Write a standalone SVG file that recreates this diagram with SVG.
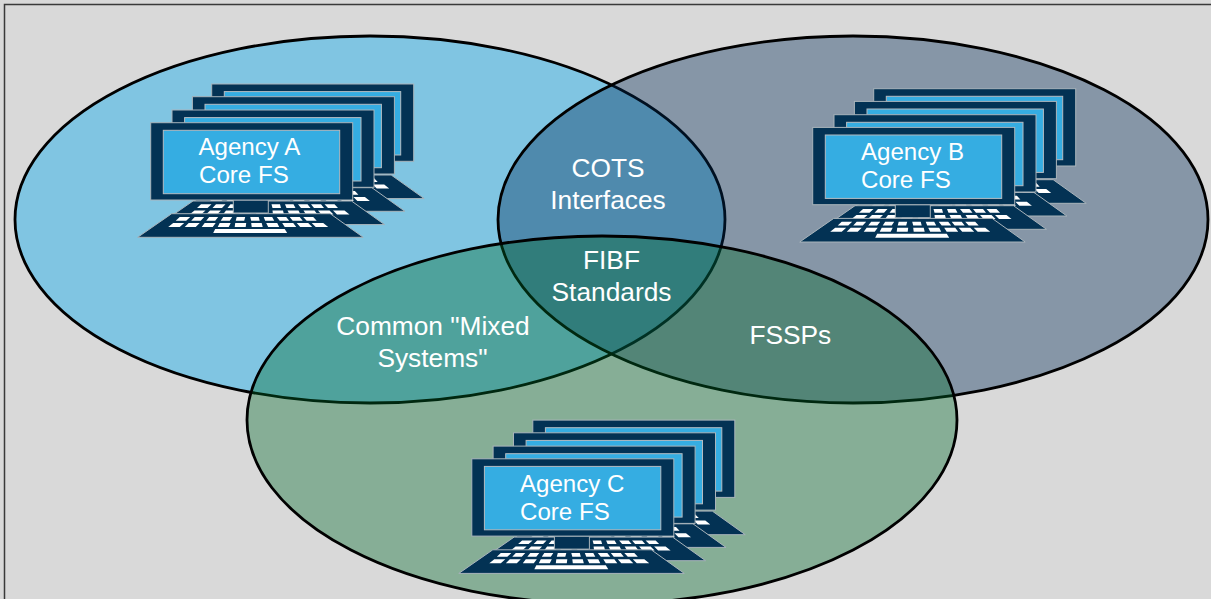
<svg xmlns="http://www.w3.org/2000/svg" width="1211" height="599" viewBox="0 0 1211 599">
<style>
.bg{fill:#d9d9d9}
.frame{fill:none;stroke:#3a3a3a;stroke-width:1.5}
.e{stroke:#000;stroke-width:2.800}
.d{fill:#033254;stroke:#a9b4bb;stroke-width:1}
.s{fill:#35ade2;stroke:#b4bcc2;stroke-width:1}
.k{fill:#fff}
text{font-family:"Liberation Sans",Arial,sans-serif;fill:#fff}
.t1{font-size:24.100px}
.t2{font-size:26.300px;text-anchor:middle}
</style>
<defs>
<g id="laptop">
<path class="d" d="M21 91H179.500L212.500 114.600H-13Z"/>
<g class="k">
<path d="M29 94.300H39.500L35.500 98H25ZM44 94.300H53.500L50 98H40.500ZM58.500 94.300H67.500L64.500 98H55.500ZM72.500 94.300H81.500L79 98H70ZM86 94.300H94.500L93.500 98H85ZM99.500 94.300H108L109 98H100.500ZM113 94.300H121.500L123.500 98H114.500ZM126 94.300H135.500L138.500 98H129ZM139 94.300H149L152 98H142ZM152.500 94.300H162.500L166 98H156Z"/>
<path d="M22.500 100.400H33.500L29 104.400H17.500ZM38 100.400H49L45 104.400H34ZM54 100.400H65L62 104.400H51ZM69 100.400H80L78 104.400H67ZM84.500 100.400H95.500L95 104.400H84ZM100.500 100.400H111L112 104.400H101ZM115.500 100.400H126.500L128.500 104.400H117.500ZM131.500 100.400H142.500L145.500 104.400H134ZM146 100.400H157.500L161.500 104.400H149.500ZM161 100.400H172.500L177.500 104.400H165Z"/>
<path d="M64.500 106.400H134L136.500 110.400H62.500Z"/>
</g>
<rect class="d" x="82.600" y="77.300" width="35" height="13"/>
<rect class="d" width="202" height="77.300"/>
<rect class="s" x="12.600" y="7.600" width="176.400" height="63.400"/>
</g>
<g id="stack">
<use href="#laptop" x="61" y="-38.700"/>
<use href="#laptop" x="41.700" y="-26"/>
<use href="#laptop" x="21.300" y="-12.700"/>
<use href="#laptop"/>
</g>
</defs>
<rect class="bg" width="1211" height="599"/>
<path class="frame" d="M4.500 599V4.500H1211"/>
<g id="venn">
<ellipse id="set-a" class="e" cx="370" cy="219.500" rx="355" ry="183.500" fill="#27b1eb" fill-opacity=".5"/>
<ellipse id="set-b" class="e" cx="853" cy="219.500" rx="355" ry="183.500" fill="#002958" fill-opacity=".38"/>
<ellipse id="set-c" class="e" cx="602" cy="420" rx="355" ry="184" fill="#00682b" fill-opacity=".38"/>
</g>
<g id="agency-a"><use href="#stack" x="150.700" y="122.700"/><text class="t1" x="198.500" y="155.300">Agency A</text><text class="t1" x="199" y="183.300">Core FS</text></g>
<g id="agency-b"><use href="#stack" x="812.700" y="127.400"/><text class="t1" x="861" y="160.300">Agency B</text><text class="t1" x="861" y="188.300">Core FS</text></g>
<g id="agency-c"><use href="#stack" x="471.800" y="458.800"/><text class="t1" x="520" y="492.300">Agency C</text><text class="t1" x="520" y="520">Core FS</text></g>
<g id="cots"><text class="t2" x="608" y="176.500">COTS</text><text class="t2" x="608" y="208.500">Interfaces</text></g>
<g id="fibf"><text class="t2" x="611.500" y="269.400">FIBF</text><text class="t2" x="611.500" y="301.400">Standards</text></g>
<g id="mixed"><text class="t2" x="433" y="335">Common "Mixed</text><text class="t2" x="432.500" y="366.500">Systems"</text></g>
<g id="fssps"><text class="t2" x="790.300" y="343.500">FSSPs</text></g>
</svg>
